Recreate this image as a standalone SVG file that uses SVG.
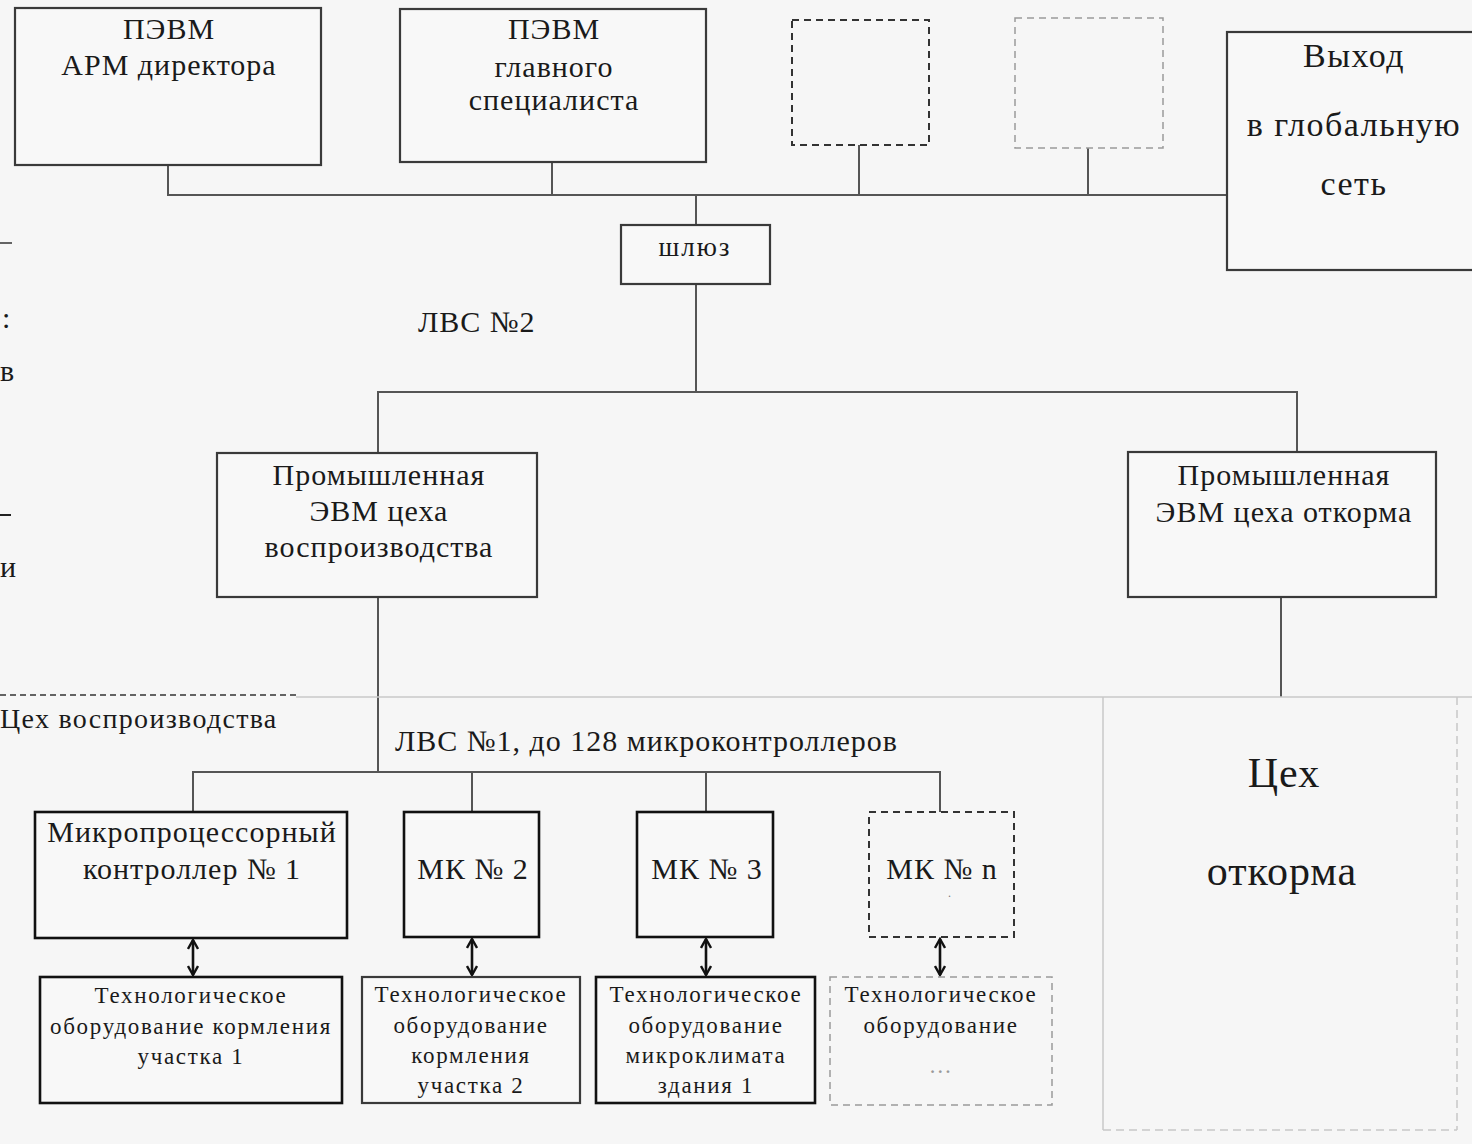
<svg xmlns="http://www.w3.org/2000/svg" width="1472" height="1144" viewBox="0 0 1472 1144">
<defs>
<style>
.bg{fill:#f6f6f6}
.box{fill:#f8f8f8;stroke:#3a3a3a;stroke-width:2.2}
.boxb{fill:#f8f8f8;stroke:#111;stroke-width:2.6}
.dash{fill:none;stroke:#333;stroke-width:2;stroke-dasharray:7,5}
.dashl{fill:none;stroke:#9a9a9a;stroke-width:1.5;stroke-dasharray:7,5}
.ln{fill:none;stroke:#555;stroke-width:2}
.lnf{fill:none;stroke:#c8c8c8;stroke-width:1.5}
.arr{fill:none;stroke:#111;stroke-width:2.6}
text{font-family:"Liberation Serif","Times New Roman",serif;fill:#1a1a1a}
.t26{font-size:30px;letter-spacing:1px;text-anchor:middle}
.t34{font-size:34px;letter-spacing:1.5px;text-anchor:middle}
.t20{font-size:23px;letter-spacing:1.7px;text-anchor:middle}
.t36{font-size:42px;letter-spacing:1px;text-anchor:middle}
.lbl{font-size:30px;letter-spacing:1px}
</style>
<marker id="ah" viewBox="0 0 12 12" refX="10" refY="6" markerWidth="12" markerHeight="12" markerUnits="userSpaceOnUse" orient="auto-start-reverse">
<path d="M1,1 L10,6 L1,11" fill="none" stroke="#111" stroke-width="2.4"/>
</marker>
</defs>
<rect class="bg" x="0" y="0" width="1472" height="1144"/>

<g id="connectors">
<path class="ln" d="M168,165 V195 H1227"/>
<path class="ln" d="M552,162 V195"/>
<path class="ln" d="M859,145 V195"/>
<path class="ln" d="M1088,148 V195"/>
<path class="ln" d="M696,195 V225"/>
<path class="ln" d="M696,284 V392"/>
<path class="ln" d="M378,453 V392 H1297 V452"/>
<path class="ln" d="M378,597 V772"/>
<path class="ln" d="M1281,597 V697"/>
<path class="ln" d="M193,812 V772 H940 V812"/>
<path class="ln" d="M472,772 V812"/>
<path class="ln" d="M706,772 V812"/>
<line class="arr" x1="193" y1="940" x2="193" y2="975" marker-start="url(#ah)" marker-end="url(#ah)"/>
<line class="arr" x1="472" y1="939" x2="472" y2="975" marker-start="url(#ah)" marker-end="url(#ah)"/>
<line class="arr" x1="706" y1="939" x2="706" y2="975" marker-start="url(#ah)" marker-end="url(#ah)"/>
<line class="arr" x1="940" y1="939" x2="940" y2="975" marker-start="url(#ah)" marker-end="url(#ah)"/>
</g>

<g id="frames">
<line x1="0" y1="695" x2="296" y2="695" stroke="#333" stroke-width="1.6" stroke-dasharray="6,4"/>
<line class="lnf" x1="296" y1="697" x2="1472" y2="697"/>
<line class="lnf" x1="1103" y1="697" x2="1103" y2="1130"/>
<line class="lnf" x1="1457" y1="697" x2="1457" y2="1130" stroke-dasharray="8,5"/>
<line class="lnf" x1="1103" y1="1130" x2="1457" y2="1130" stroke-dasharray="8,5"/>
</g>

<g id="edge-text">
<line x1="0" y1="243" x2="12" y2="243" stroke="#333" stroke-width="1.5"/>
<text x="2" y="328" class="lbl">:</text>
<text x="0" y="381" class="lbl">в</text>
<line x1="0" y1="515" x2="11" y2="515" stroke="#222" stroke-width="2"/>
<text x="0" y="577" class="lbl">и</text>
</g>

<g id="pevm-director">
<rect class="box" x="15" y="8" width="306" height="157"/>
<text class="t26" x="169" y="39">ПЭВМ</text>
<text class="t26" x="169" y="75">АРМ директора</text>
</g>

<g id="pevm-specialist">
<rect class="box" x="400" y="9" width="306" height="153"/>
<text class="t26" x="554" y="39">ПЭВМ</text>
<text class="t26" x="554" y="77">главного</text>
<text class="t26" x="554" y="110">специалиста</text>
</g>

<g id="pevm-dashed-1">
<rect class="dash" x="792" y="20" width="137" height="125"/>
</g>

<g id="pevm-dashed-2">
<rect class="dashl" x="1015" y="18" width="148" height="130"/>
</g>

<g id="global-exit">
<rect class="box" x="1227" y="32" width="260" height="238"/>
<text class="t34" x="1354" y="67">Выход</text>
<text class="t34" x="1354" y="136">в глобальную</text>
<text class="t34" x="1354" y="195">сеть</text>
</g>

<g id="gateway">
<rect class="box" x="621" y="225" width="149" height="59"/>
<text x="695" y="256" style="font-size:27px;letter-spacing:2px;text-anchor:middle">шлюз</text>
</g>

<text x="418" y="332" class="lbl">ЛВС №2</text>

<g id="pc-reproduction">
<rect class="box" x="217" y="453" width="320" height="144"/>
<text class="t26" x="379" y="485">Промышленная</text>
<text class="t26" x="379" y="521">ЭВМ цеха</text>
<text class="t26" x="379" y="557">воспроизводства</text>
</g>

<g id="pc-fattening">
<rect class="box" x="1128" y="452" width="308" height="145"/>
<text class="t26" x="1284" y="485">Промышленная</text>
<text class="t26" x="1284" y="522">ЭВМ цеха откорма</text>
</g>

<text x="0" y="728" style="font-size:28px;letter-spacing:1.3px">Цех воспроизводства</text>
<text x="395" y="751" class="lbl">ЛВС №1, до 128 микроконтроллеров</text>

<g id="mk1">
<rect class="boxb" x="35" y="812" width="312" height="126"/>
<text class="t26" x="192" y="842">Микропроцессорный</text>
<text class="t26" x="192" y="879">контроллер № 1</text>
</g>

<g id="mk2">
<rect class="boxb" x="404" y="812" width="135" height="125"/>
<text class="t26" x="473" y="879">МК № 2</text>
</g>

<g id="mk3">
<rect class="boxb" x="637" y="812" width="136" height="125"/>
<text class="t26" x="707" y="879">МК № 3</text>
</g>

<g id="mkn">
<rect class="dash" x="869" y="812" width="145" height="125"/>
<text class="t26" x="942" y="879">МК № n</text>
<text x="948" y="897" style="font-size:12px;fill:#777">.</text>
</g>

<g id="equip1">
<rect class="boxb" x="40" y="977" width="302" height="126"/>
<text class="t20" x="191" y="1003">Технологическое</text>
<text class="t20" x="191" y="1034">оборудование кормления</text>
<text class="t20" x="191" y="1064">участка 1</text>
</g>

<g id="equip2">
<rect class="box" x="362" y="977" width="218" height="126"/>
<text class="t20" x="471" y="1002">Технологическое</text>
<text class="t20" x="471" y="1033">оборудование</text>
<text class="t20" x="471" y="1063">кормления</text>
<text class="t20" x="471" y="1093">участка 2</text>
</g>

<g id="equip3">
<rect class="boxb" x="596" y="977" width="219" height="126"/>
<text class="t20" x="706" y="1002">Технологическое</text>
<text class="t20" x="706" y="1033">оборудование</text>
<text class="t20" x="706" y="1063">микроклимата</text>
<text class="t20" x="706" y="1093">здания 1</text>
</g>

<g id="equipn">
<rect class="dashl" x="830" y="977" width="222" height="128"/>
<text class="t20" x="941" y="1002">Технологическое</text>
<text class="t20" x="941" y="1033">оборудование</text>
<text class="t20" x="941" y="1073" style="fill:#999">…</text>
</g>

<g id="fattening-shop">
<text class="t36" x="1284" y="787">Цех</text>
<text class="t36" x="1282" y="885">откорма</text>
</g>
</svg>
